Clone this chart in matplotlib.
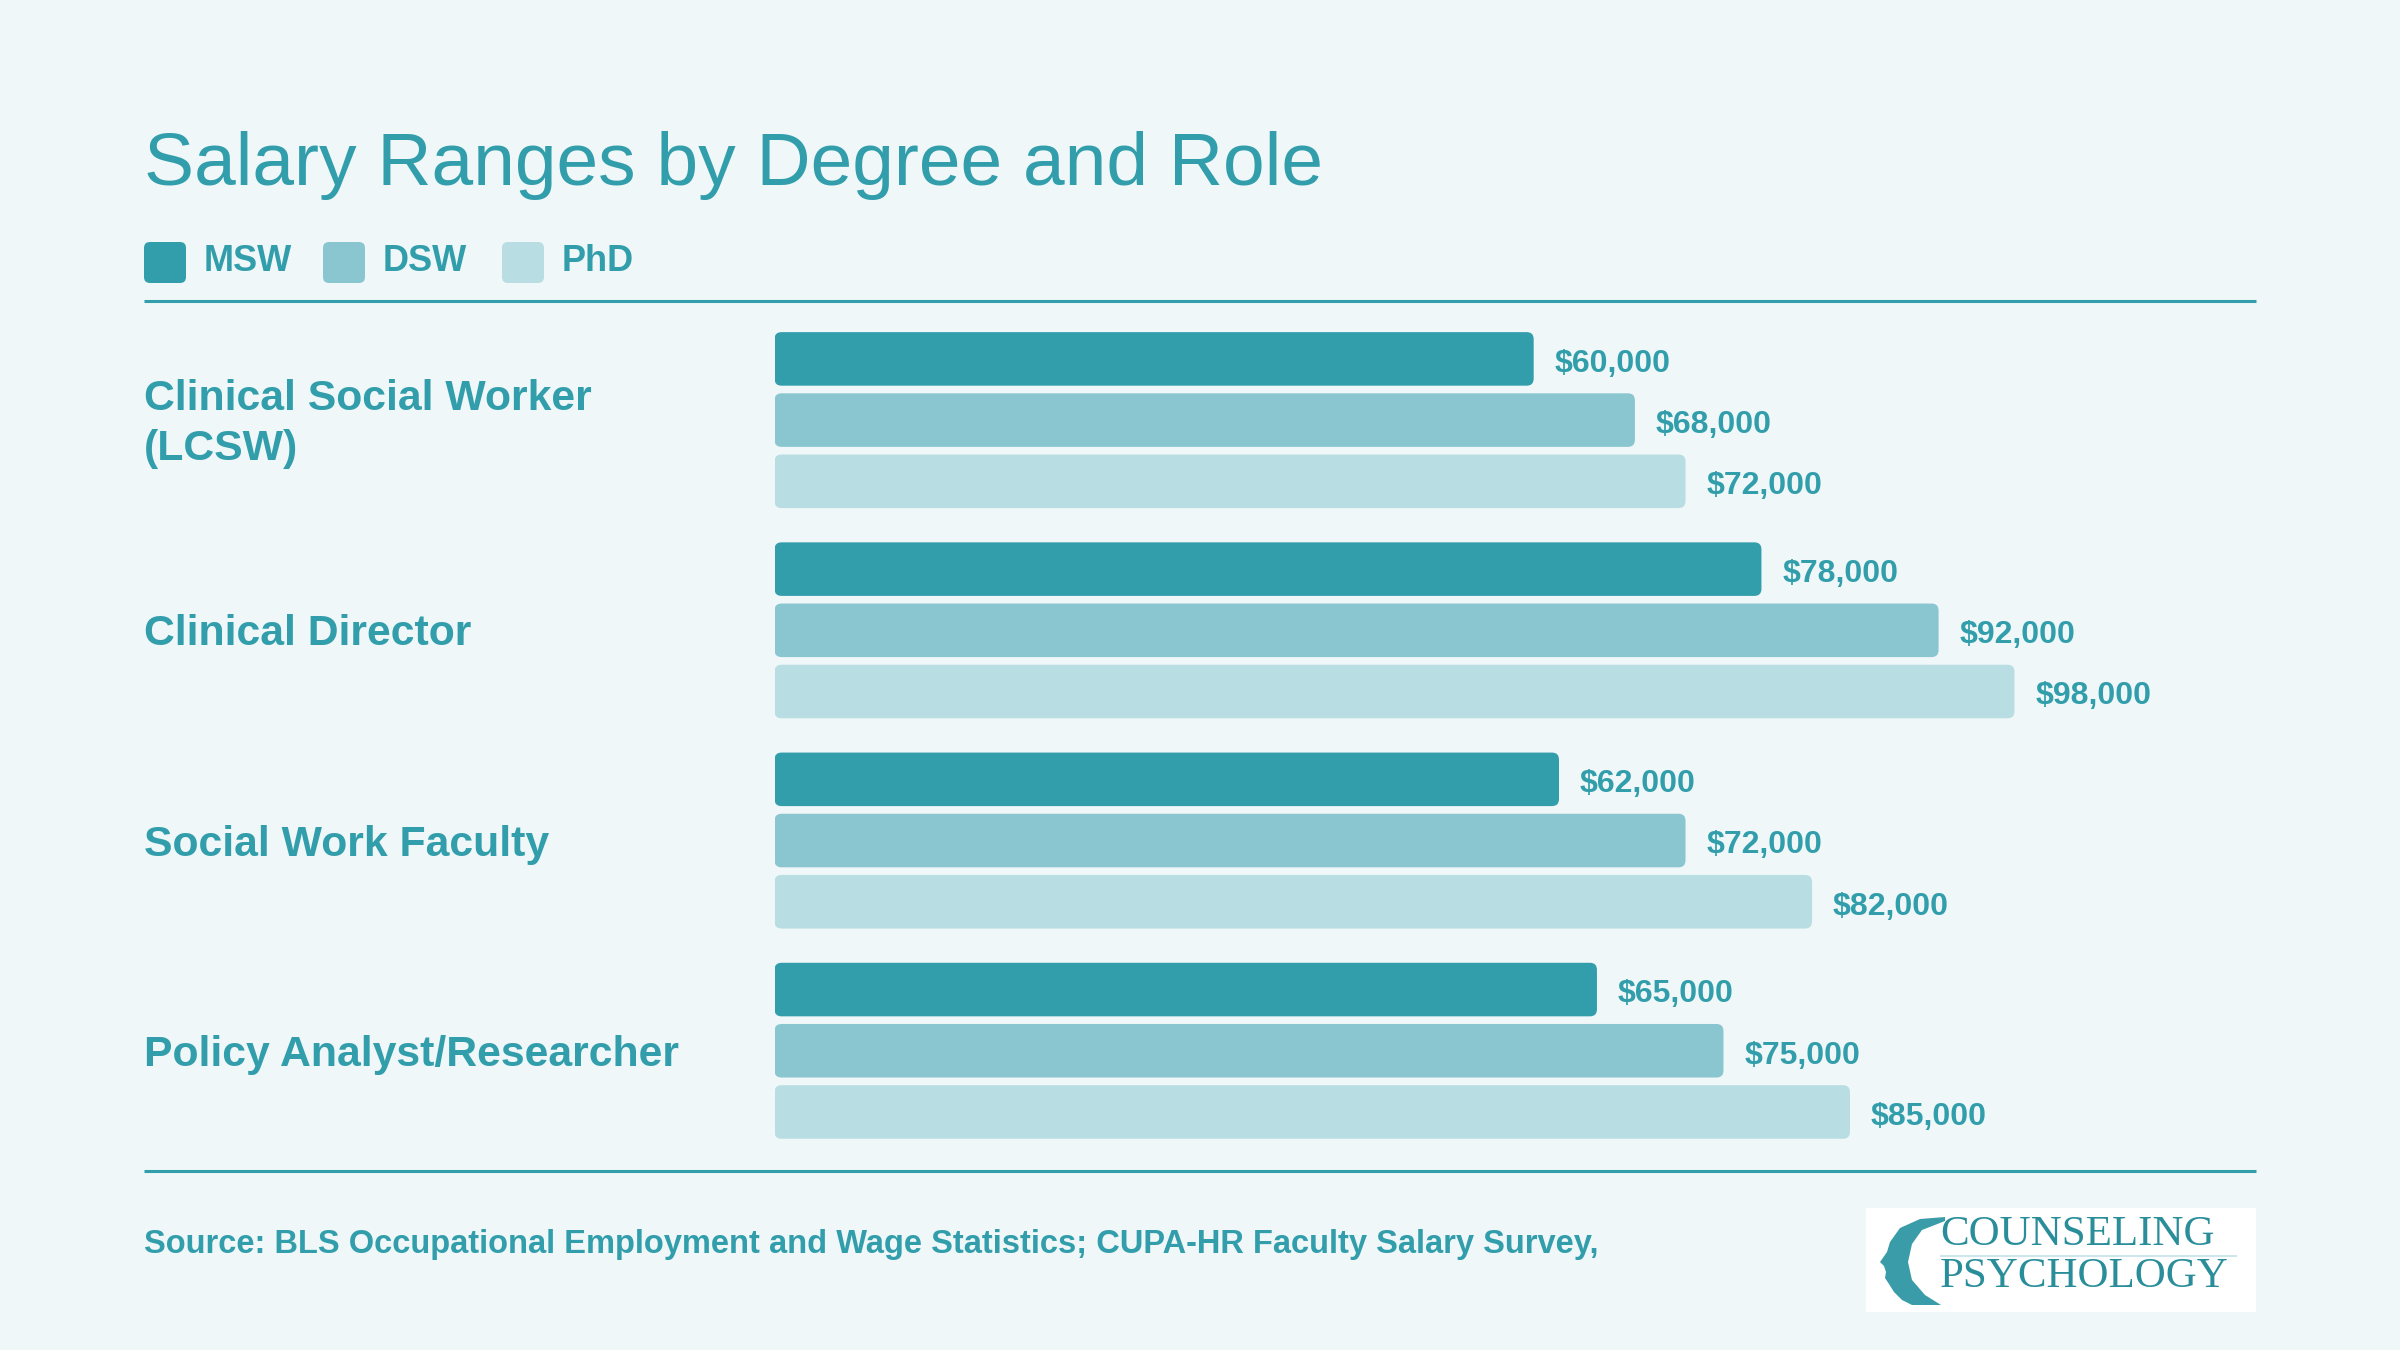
import numpy as np
import matplotlib.pyplot as plt
import matplotlib.transforms as mtransforms
from matplotlib.patches import FancyBboxPatch, Rectangle, Polygon

# data
roles = ["Clinical Social Worker\n(LCSW)", "Clinical Director",
         "Social Work Faculty", "Policy Analyst/Researcher"]
degrees = ["MSW", "DSW", "PhD"]
msw = [60000, 78000, 62000, 65000]
dsw = [68000, 92000, 72000, 75000]
phd = [72000, 98000, 82000, 85000]
title = "Salary Ranges by Degree and Role"
source = "Source: BLS Occupational Employment and Wage Statistics; CUPA-HR Faculty Salary Survey,"

BG = "#EFF7F8"
TEAL = "#329EAB"
COLORS = ["#329EAB", "#8AC6CF", "#B8DDE2"]

plt.rcParams['font.family'] = ['Liberation Sans', 'DejaVu Sans']

W, H = 2400, 1350
fig = plt.figure(figsize=(24, 13.5), dpi=100, facecolor=BG)

# decoration layer in pixel coordinates
deco = fig.add_axes([0, 0, 1, 1])
deco.set_xlim(0, W)
deco.set_ylim(H, 0)
deco.axis('off')
deco.set_zorder(0)

# title + legend
deco.text(144, 185, title, fontsize=54, color=TEAL, va='baseline', ha='left')
leg_x = [144, 323, 502]
for i, name in enumerate(degrees):
    deco.add_patch(FancyBboxPatch((leg_x[i], 242), 42, 41,
                                  boxstyle="round,pad=0,rounding_size=6",
                                  fc=COLORS[i], ec='none'))
    deco.text(leg_x[i] + 60, 271, name, fontsize=26, fontweight='bold',
              color=TEAL, va='baseline', ha='left')

# rules
deco.plot([144, 2256], [301, 301], color=TEAL, lw=2.2, solid_capstyle='butt')
deco.plot([144, 2256], [1171, 1171], color=TEAL, lw=2.2, solid_capstyle='butt')

# source
deco.text(144, 1244, source, fontsize=23.5, fontweight='bold', color=TEAL,
          va='center', ha='left')

# logo
deco.add_patch(Rectangle((1866, 1208), 390, 104, fc='white', ec='none'))
head = [(1945, 1217), (1920, 1219), (1900, 1228), (1890, 1242), (1887, 1252),
        (1880, 1262), (1884, 1266), (1886, 1272), (1885, 1278), (1889, 1284),
        (1894, 1292), (1902, 1300), (1912, 1305), (1941, 1305), (1925, 1295),
        (1912, 1280), (1908, 1262), (1912, 1244), (1922, 1230), (1945, 1221)]
deco.add_patch(Polygon(head, closed=True, fc='#3A9CA8', ec='none'))
deco.text(1940, 1235, "COUNSELING", fontsize=31, family='Liberation Serif',
          color='#2A8E9A', va='center', ha='left')
deco.plot([1941, 2236], [1256, 1256], color='#CFE6EA', lw=1.5)
deco.text(1940, 1277, "PSYCHOLOGY", fontsize=31, family='Liberation Serif',
          color='#2A8E9A', va='center', ha='left')

# bars
ax = fig.add_axes([774.5 / W, 1 - 1171 / H, 1480 / W, 870 / H])
ax.set_zorder(1)
ax.patch.set_alpha(0)
ax.axis('off')
xmax = 1480 / 0.012653
ax.set_xlim(0, xmax)
ax.set_ylim(-0.946 + 870 / 61.2, -0.946)

group_pitch = 3.435
base = np.arange(len(roles)) * group_pitch
series = [msw, dsw, phd]
x_per_px = xmax / 1480
y_per_px = 1 / 61.2
for i, vals in enumerate(series):
    bars = ax.barh(base + i, vals, height=0.875, color=COLORS[i])
    for b, v in zip(bars, vals):
        b.set_visible(False)
        ax.add_patch(FancyBboxPatch((b.get_x(), b.get_y()), b.get_width(), b.get_height(),
                                    boxstyle=f"round,pad=0,rounding_size={7 * x_per_px}",
                                    mutation_aspect=y_per_px / x_per_px,
                                    fc=COLORS[i], ec='none'))
        ax.annotate(f"${v:,.0f}", (v, b.get_y() + b.get_height() / 2),
                    xytext=(15, -1), textcoords='offset points',
                    fontsize=23, fontweight='bold', color=TEAL,
                    va='center_baseline', ha='left')

# category labels, nudged a few pixels down to sit like the reference
blend = mtransforms.blended_transform_factory(fig.transFigure, ax.transData)
nudge = mtransforms.ScaledTranslation(0, -4 / 100, fig.dpi_scale_trans)
for g, role in enumerate(roles):
    ax.text(144 / W, base[g] + 1, role, transform=blend + nudge, fontsize=30.8,
            fontweight='bold', color=TEAL, va='center', ha='left',
            linespacing=1.32)

fig.savefig("out.png", dpi=100, facecolor=BG)
